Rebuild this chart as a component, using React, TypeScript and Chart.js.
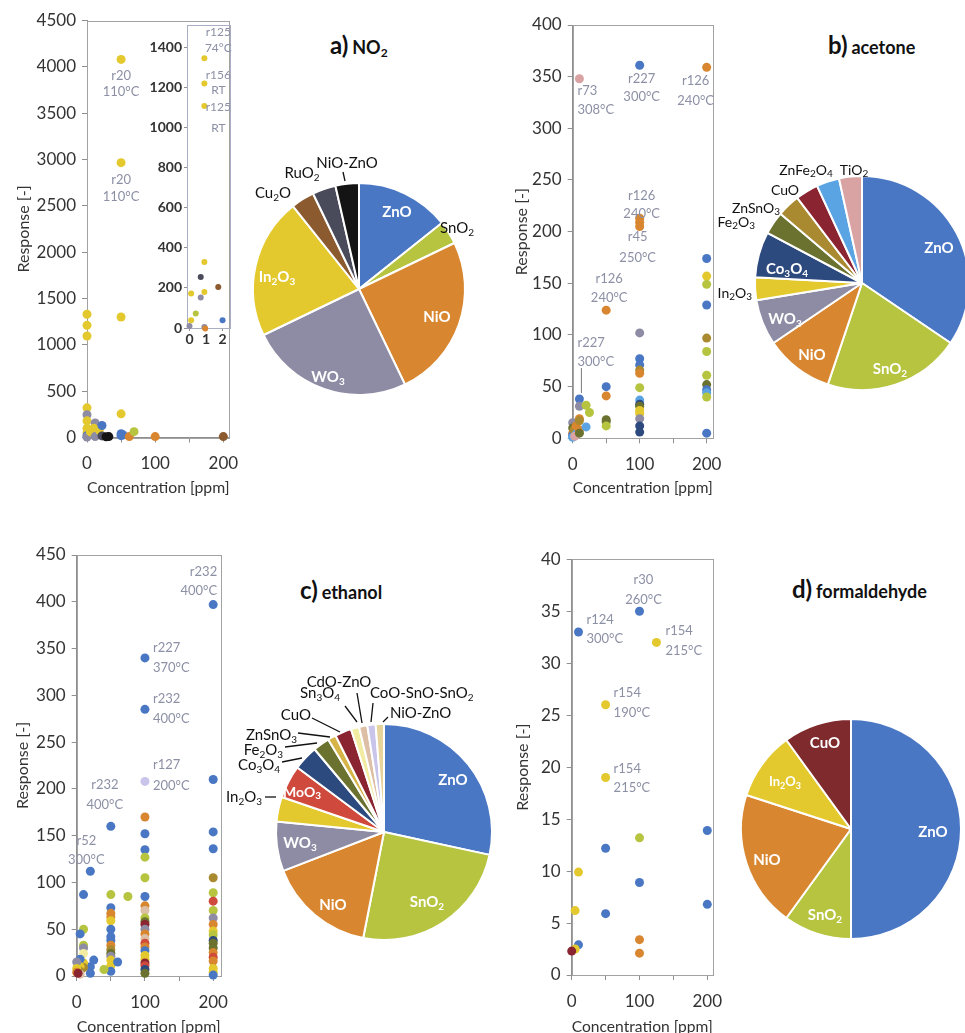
import React, { useEffect, useRef } from 'react';
import { Chart, registerables } from 'chart.js';

Chart.register(...registerables);

const FONT = 'Lato, "Open Sans", "DejaVu Sans", sans-serif';
const TICK_COLOR = '#333333';
const AXIS_COLOR = '#8f8f8f';
const NOTE_COLOR = '#8c90a5';

// ---------- material colours ----------
const COLORS: Record<string, string> = {
  'ZnO': '#4a77c4',
  'SnO2': '#b6c440',
  'NiO': '#d8862f',
  'WO3': '#8e8ca4',
  'In2O3': '#e3c92e',
  'Cu2O': '#8b5a2f',
  'RuO2': '#4a4b5a',
  'NiO-ZnO': '#141414',
  'Co3O4': '#2d4a7e',
  'Fe2O3': '#6b712f',
  'ZnSnO3': '#a98a30',
  'CuO': '#8a2431',
  'ZnFe2O4': '#5ba4e4',
  'TiO2': '#d9a3a4',
  'MoO3': '#cf4a3c',
  'Sn3O4': '#f2eca2',
  'CdO-ZnO': '#dcbfa4',
  'CoO-SnO-SnO2': '#c9c5ea',
};

// ---------- shared axis ticks ----------
const X_TICKS = [0, 50, 100, 150, 200];
const X_LABELS = [0, 100, 200];

// ---------- a) NO2 ----------
const NO2_X = [0, 0, 0, 0, 0, 0, 0, 0, 0, 0, 12, 5, 10, 12, 18, 22, 22, 32, 28, 50, 50, 50, 50, 50, 50, 53, 62, 69, 100, 200];
const NO2_Y = [1330, 1210, 1095, 320, 245, 180, 100, 50, 20, 5, 157, 60, 100, 10, 80, 130, 17, 10, 8, 4080, 2966, 1300, 255, 40, 20, 28, 10, 63, 10, 10];
const NO2_M = ['In2O3', 'In2O3', 'In2O3', 'In2O3', 'WO3', 'In2O3', 'In2O3', 'In2O3', 'ZnO', 'WO3', 'WO3', 'In2O3', 'In2O3', 'WO3', 'In2O3', 'ZnO', 'RuO2', 'NiO-ZnO', 'NiO-ZnO', 'In2O3', 'In2O3', 'In2O3', 'In2O3', 'ZnO', 'ZnO', 'ZnO', 'NiO', 'SnO2', 'NiO', 'Cu2O'];
const NO2_Y_TICKS = [0, 500, 1000, 1500, 2000, 2500, 3000, 3500, 4000, 4500];
const NO2_NOTES = [
  { x: 50, y: 4080, lines: ['r20', '110°C'] },
  { x: 50, y: 2966, lines: ['r20', '110°C'] },
];
// inset (low concentrations)
const NO2_IN_X = [0, 0.1, 0.1, 0.38, 0.68, 0.68, 0.9, 0.9, 0.9, 0.95, 1.74, 2, 0.9, 0.9, 0.9];
const NO2_IN_Y = [10, 38, 172, 72, 152, 254, 329, 180, 5, -2, 204, 38, 1344, 1219, 1106];
const NO2_IN_M = ['WO3', 'In2O3', 'In2O3', 'SnO2', 'WO3', 'RuO2', 'In2O3', 'In2O3', 'WO3', 'NiO', 'Cu2O', 'ZnO', 'In2O3', 'In2O3', 'In2O3'];
const NO2_IN_X_TICKS = [0, 1, 2];
const NO2_IN_Y_TICKS = [0, 200, 400, 600, 800, 1000, 1200, 1400];
const NO2_IN_NOTES = [
  { x: 0.9, y: 1344, lines: ['r125', '74°C'] },
  { x: 0.9, y: 1219, lines: ['r156', 'RT'] },
  { x: 0.9, y: 1106, lines: ['r125', 'RT'] },
];
const NO2_PIE_LABELS = ['ZnO', 'SnO2', 'NiO', 'WO3', 'In2O3', 'Cu2O', 'RuO2', 'NiO-ZnO'];
const NO2_PIE_COUNTS = [4, 1, 7, 7, 6, 1, 1, 1];

// ---------- b) acetone ----------
const ACE_X = [10, 100, 200, 100, 100, 100, 50, 10, 0, 0, 0, 0, 0, 2, 5, 5, 3, 10, 10, 10, 10, 10, 20, 25, 20, 50, 50, 50, 50, 50, 100, 100, 100, 100, 100, 100, 100, 100, 100, 100, 100, 100, 100, 100, 200, 200, 200, 200, 200, 200, 200, 200, 200, 200, 200, 200];
const ACE_Y = [348, 361, 359, 213, 209, 205, 124, 38, 15, 10, 5, 3, 1, 8, 12, 4, 2, 31, 19, 17, 8, 5, 32, 25, 11, 50, 41, 18, 16, 12, 102, 77, 71, 66, 63, 49, 37, 33, 31, 27, 24, 19, 12, 6, 174, 157, 149, 129, 97, 84, 61, 52, 47, 44, 40, 5];
const ACE_M = ['TiO2', 'ZnO', 'NiO', 'NiO', 'NiO', 'NiO', 'NiO', 'ZnO', 'WO3', 'Fe2O3', 'NiO', 'ZnO', 'ZnFe2O4', 'ZnSnO3', 'NiO', 'ZnFe2O4', 'TiO2', 'WO3', 'NiO', 'ZnSnO3', 'NiO', 'Fe2O3', 'SnO2', 'SnO2', 'ZnFe2O4', 'ZnO', 'NiO', 'Fe2O3', 'Fe2O3', 'SnO2', 'WO3', 'ZnO', 'ZnO', 'ZnSnO3', 'NiO', 'SnO2', 'ZnFe2O4', 'Co3O4', 'Fe2O3', 'In2O3', 'In2O3', 'WO3', 'Co3O4', 'Co3O4', 'ZnO', 'In2O3', 'SnO2', 'ZnO', 'ZnSnO3', 'SnO2', 'SnO2', 'Fe2O3', 'ZnO', 'ZnFe2O4', 'SnO2', 'ZnO'];
const ACE_Y_TICKS = [0, 50, 100, 150, 200, 250, 300, 350, 400];
const ACE_NOTES = [
  { x: 10, y: 348, lines: ['r73', '308°C'] },
  { x: 100, y: 361, lines: ['r227', '300°C'] },
  { x: 200, y: 359, lines: ['r126', '240°C'] },
  { x: 100, y: 213, lines: ['r126', '240°C'] },
  { x: 100, y: 205, lines: ['r45', '250°C'] },
  { x: 50, y: 124, lines: ['r126', '240°C'] },
  { x: 10, y: 38, lines: ['r227', '300°C'] },
];
const ACE_PIE_LABELS = ['ZnO', 'SnO2', 'NiO', 'WO3', 'In2O3', 'Co3O4', 'Fe2O3', 'ZnSnO3', 'CuO', 'ZnFe2O4', 'TiO2'];
const ACE_PIE_COUNTS = [10, 6, 3, 2, 1, 2, 1, 1, 1, 1, 1];

// ---------- c) ethanol ----------
const ETH_X = [
  200, 200, 200, 200, 200, 200, 200, 200, 200, 200, 200, 200, 200, 200, 200, 200, 200, 200, 200, 200, 200,
  100, 100, 100, 100, 100, 100, 100, 100, 100, 100, 100, 100, 100, 100, 100, 100, 100, 100, 100, 100, 100, 100, 100, 100, 100, 100,
  50, 50, 50, 50, 50, 50, 50, 50, 50, 50, 50, 50, 50, 50, 50, 50,
  75, 40, 60, 20, 20, 20, 25, 10, 10, 10, 10, 10, 10, 10, 5, 5, 5, 5, 5, 0, 0, 0, 2,
];
const ETH_Y = [
  397, 210, 154, 136, 105, 89, 80, 70, 62, 55, 48, 44, 38, 35, 30, 25, 20, 16, 8, 4, 1,
  340, 285, 208, 170, 152, 135, 127, 105, 85, 75, 70, 62, 58, 55, 50, 45, 40, 35, 31, 27, 22, 18, 14, 11, 7, 3,
  160, 87, 73, 67, 63, 59, 50, 42, 38, 33, 28, 24, 21, 17, 11, 5,
  85, 7, 15, 112, 10, 3, 17, 87, 50, 33, 30, 24, 14, 9, 45, 18, 10, 5, 2, 15, 8, 4, 3,
];
const ETH_M = [
  'ZnO', 'ZnO', 'ZnO', 'ZnO', 'ZnSnO3', 'SnO2', 'MoO3', 'SnO2', 'WO3', 'NiO', 'In2O3', 'SnO2', 'Co3O4', 'Fe2O3', 'Fe2O3', 'NiO', 'MoO3', 'NiO', 'In2O3', 'In2O3', 'ZnO',
  'ZnO', 'ZnO', 'CoO-SnO-SnO2', 'NiO', 'ZnO', 'ZnO', 'SnO2', 'SnO2', 'ZnO', 'NiO', 'CdO-ZnO', 'SnO2', 'Fe2O3', 'CuO', 'WO3', 'NiO', 'CdO-ZnO', 'MoO3', 'NiO', 'ZnO', 'In2O3', 'In2O3', 'CuO', 'MoO3', 'Co3O4', 'Fe2O3',
  'ZnO', 'SnO2', 'ZnO', 'NiO', 'NiO', 'In2O3', 'ZnO', 'ZnO', 'ZnO', 'NiO', 'ZnSnO3', 'Fe2O3', 'WO3', 'In2O3', 'In2O3', 'ZnO',
  'SnO2', 'SnO2', 'ZnO', 'ZnO', 'ZnO', 'ZnO', 'ZnO', 'ZnO', 'SnO2', 'SnO2', 'WO3', 'Sn3O4', 'In2O3', 'ZnSnO3', 'ZnO', 'ZnO', 'In2O3', 'ZnSnO3', 'CdO-ZnO', 'WO3', 'In2O3', 'NiO', 'CuO',
];
const ETH_Y_TICKS = [0, 50, 100, 150, 200, 250, 300, 350, 400, 450];
const ETH_NOTES = [
  { x: 200, y: 397, lines: ['r232', '400°C'] },
  { x: 100, y: 340, lines: ['r227', '370°C'] },
  { x: 100, y: 285, lines: ['r232', '400°C'] },
  { x: 100, y: 208, lines: ['r127', '200°C'] },
  { x: 50, y: 160, lines: ['r232', '400°C'] },
  { x: 20, y: 112, lines: ['r52', '300°C'] },
];
const ETH_PIE_LABELS = ['ZnO', 'SnO2', 'NiO', 'WO3', 'In2O3', 'MoO3', 'Co3O4', 'Fe2O3', 'ZnSnO3', 'CuO', 'Sn3O4', 'CdO-ZnO', 'CoO-SnO-SnO2', 'NiO-ZnO'];
const ETH_PIE_COUNTS = [23, 20, 13, 6, 3, 4, 3, 2, 1, 2, 1, 1, 1, 1];

// ---------- d) formaldehyde ----------
const FORM_X = [10, 100, 125, 50, 50, 100, 50, 200, 10, 100, 5, 50, 200, 100, 100, 10, 5, 0];
const FORM_Y = [33, 35, 32, 26, 19, 13.2, 12.2, 13.9, 9.9, 8.9, 6.2, 5.9, 6.8, 3.4, 2.1, 2.9, 2.5, 2.3];
const FORM_M = ['ZnO', 'ZnO', 'In2O3', 'In2O3', 'In2O3', 'SnO2', 'ZnO', 'ZnO', 'In2O3', 'ZnO', 'In2O3', 'ZnO', 'ZnO', 'NiO', 'NiO', 'ZnO', 'In2O3', 'CuO'];
const FORM_Y_TICKS = [0, 5, 10, 15, 20, 25, 30, 35, 40];
const FORM_NOTES = [
  { x: 10, y: 33, lines: ['r124', '300°C'] },
  { x: 100, y: 35, lines: ['r30', '260°C'] },
  { x: 125, y: 32, lines: ['r154', '215°C'] },
  { x: 50, y: 26, lines: ['r154', '190°C'] },
  { x: 50, y: 19, lines: ['r154', '215°C'] },
];
const FORM_PIE_LABELS = ['ZnO', 'SnO2', 'NiO', 'In2O3', 'CuO'];
const FORM_PIE_COUNTS = [5, 1, 2, 1, 1];

// ================= styling / placement (not data) =================
type NotePos = { dx: number; dy: number[]; align: CanvasTextAlign; lead?: number[] };
type LabelPos = { dx: number; dy: number; inside?: boolean; align?: CanvasTextAlign; size?: number; lead?: number[] };

const NO2_NOTE_POS: NotePos[] = [
  { dx: 0, dy: [16, 32], align: 'center' },
  { dx: 0, dy: [17, 34], align: 'center' },
];
const NO2_IN_NOTE_POS: NotePos[] = [
  { dx: 14, dy: [-26, -10], align: 'center' },
  { dx: 14, dy: [-8, 7], align: 'center' },
  { dx: 14, dy: [1, 22], align: 'center' },
];
const ACE_NOTE_POS: NotePos[] = [
  { dx: -2, dy: [12, 31], align: 'left' },
  { dx: 2, dy: [14, 32], align: 'center' },
  { dx: -11, dy: [13, 33], align: 'center' },
  { dx: 2, dy: [-22, -4], align: 'center' },
  { dx: -2, dy: [10, 31], align: 'center' },
  { dx: 3, dy: [-31, -12], align: 'center' },
  { dx: -2, dy: [-56, -37], align: 'left', lead: [2, -31, 2, -6] },
];
const ETH_NOTE_POS: NotePos[] = [
  { dx: 4, dy: [-33, -14], align: 'right' },
  { dx: 8, dy: [-10, 10], align: 'left' },
  { dx: 8, dy: [-11, 9], align: 'left' },
  { dx: 8, dy: [-17, 4], align: 'left' },
  { dx: -6, dy: [-41, -21], align: 'center' },
  { dx: -4, dy: [-30, -11], align: 'center' },
];
const FORM_NOTE_POS: NotePos[] = [
  { dx: 8, dy: [-12, 7], align: 'left' },
  { dx: 4, dy: [-31, -11], align: 'center' },
  { dx: 9, dy: [-12, 8], align: 'left' },
  { dx: 8, dy: [-12, 8], align: 'left' },
  { dx: 8, dy: [-9, 10], align: 'left' },
];

const NO2_PIE_POS: LabelPos[] = [
  { dx: 38, dy: -77, inside: true },
  { dx: 81, dy: -61, align: 'left' },
  { dx: 78, dy: 28, inside: true },
  { dx: -31, dy: 88, inside: true },
  { dx: -82, dy: -12, inside: true },
  { dx: -86, dy: -96 },
  { dx: -57, dy: -116 },
  { dx: -12, dy: -126, lead: [-16, -117, -14, -108] },
];
const ACE_PIE_POS: LabelPos[] = [
  { dx: 77, dy: -35, inside: true },
  { dx: 28, dy: 86, inside: true },
  { dx: -50, dy: 72, inside: true },
  { dx: -77, dy: 36, inside: true },
  { dx: -110, dy: 10, align: 'right', size: 14 },
  { dx: -75, dy: -14, inside: true },
  { dx: -107, dy: -61, align: 'right', size: 14 },
  { dx: -106, dy: -75, size: 14 },
  { dx: -77, dy: -93, size: 14 },
  { dx: -56, dy: -113, size: 14 },
  { dx: -8, dy: -113, size: 14 },
];
const ETH_PIE_POS: LabelPos[] = [
  { dx: 69, dy: -52, inside: true },
  { dx: 43, dy: 70, inside: true },
  { dx: -51, dy: 73, inside: true },
  { dx: -84, dy: 11, inside: true },
  { dx: -122, dy: -35, align: 'right', lead: [-119, -35, -108, -35] },
  { dx: -82, dy: -40, inside: true, size: 14 },
  { dx: -104, dy: -67, align: 'right', lead: [-102, -70, -82, -74] },
  { dx: -101, dy: -82, align: 'right', lead: [-99, -85, -67, -89] },
  { dx: -87, dy: -97, align: 'right', lead: [-86, -99, -54, -95] },
  { dx: -73, dy: -117, align: 'right', lead: [-72, -114, -44, -100] },
  { dx: -44, dy: -139, align: 'right', lead: [-39, -126, -27, -110] },
  { dx: -45, dy: -150, lead: [-27, -139, -22, -109] },
  { dx: -14, dy: -139, align: 'left', lead: [-11, -129, -13, -110] },
  { dx: 6, dy: -119, align: 'left', lead: [4, -115, -1, -110] },
];
const FORM_PIE_POS: LabelPos[] = [
  { dx: 82, dy: 3, inside: true },
  { dx: -26, dy: 86, inside: true },
  { dx: -84, dy: 31, inside: true },
  { dx: -66, dy: -47, inside: true, size: 13 },
  { dx: -26, dy: -86, inside: true },
];

const pieColors = (labels: string[], over: Record<string, string> = {}) => labels.map((l) => over[l] || COLORS[l]);

// ================= drawing helpers =================
function drawChem(ctx: CanvasRenderingContext2D, text: string, x: number, y: number, size: number, bold: boolean, color: string, align: CanvasTextAlign) {
  const parts: { t: string; sub: boolean }[] = [];
  for (const ch of text) {
    const sub = /[0-9]/.test(ch);
    const last = parts[parts.length - 1];
    if (last && last.sub === sub) last.t += ch;
    else parts.push({ t: ch, sub });
  }
  const w = bold ? 'bold ' : '';
  const mainFont = `${w}${size}px ${FONT}`;
  const subFont = `${w}${Math.round(size * 0.68)}px ${FONT}`;
  let total = 0;
  const widths = parts.map((p) => {
    ctx.font = p.sub ? subFont : mainFont;
    const m = ctx.measureText(p.t).width;
    total += m;
    return m;
  });
  let sx = align === 'center' ? x - total / 2 : align === 'right' || align === 'end' ? x - total : x;
  ctx.textAlign = 'left';
  ctx.textBaseline = 'middle';
  ctx.fillStyle = color;
  parts.forEach((p, i) => {
    ctx.font = p.sub ? subFont : mainFont;
    ctx.fillText(p.t, sx, p.sub ? y + size * 0.3 : y);
    sx += widths[i];
  });
}

const framePlugin = (color: string) => ({
  id: 'frame',
  beforeDatasetsDraw(chart: any) {
    const { ctx, chartArea: a } = chart;
    ctx.save();
    ctx.strokeStyle = color;
    ctx.lineWidth = 1;
    ctx.strokeRect(Math.round(a.left) + 0.5, Math.round(a.top) + 0.5, Math.round(a.right - a.left), Math.round(a.bottom - a.top));
    ctx.restore();
  },
});

const notesPlugin = (notes: { x: number; y: number; lines: string[] }[], pos: NotePos[], size: number) => ({
  id: 'notes',
  afterDatasetsDraw(chart: any) {
    const { ctx, scales } = chart;
    ctx.save();
    ctx.font = `${size}px ${FONT}`;
    ctx.fillStyle = NOTE_COLOR;
    ctx.strokeStyle = '#7a7a7a';
    ctx.textBaseline = 'middle';
    notes.forEach((n, i) => {
      const p = pos[i];
      const px = scales.x.getPixelForValue(n.x);
      const py = scales.y.getPixelForValue(n.y);
      ctx.textAlign = p.align;
      n.lines.forEach((t, j) => ctx.fillText(t, px + p.dx, py + p.dy[j]));
      if (p.lead) {
        ctx.lineWidth = 1;
        ctx.beginPath();
        ctx.moveTo(px + p.lead[0], py + p.lead[1]);
        ctx.lineTo(px + p.lead[2], py + p.lead[3]);
        ctx.stroke();
      }
    });
    ctx.restore();
  },
});

const pieLabelPlugin = (labels: string[], pos: LabelPos[]) => ({
  id: 'pieLabels',
  afterDatasetsDraw(chart: any) {
    const arc: any = chart.getDatasetMeta(0).data[0];
    const cx = arc.x;
    const cy = arc.y;
    const ctx = chart.ctx;
    ctx.save();
    labels.forEach((lab, i) => {
      const p = pos[i];
      if (p.lead) {
        ctx.strokeStyle = '#111';
        ctx.lineWidth = 1.3;
        ctx.beginPath();
        ctx.moveTo(cx + p.lead[0], cy + p.lead[1]);
        ctx.lineTo(cx + p.lead[2], cy + p.lead[3]);
        ctx.stroke();
      }
      drawChem(ctx, lab, cx + p.dx, cy + p.dy, p.size || 15, !!p.inside, p.inside ? '#ffffff' : '#111111', p.align || 'center');
    });
    ctx.restore();
  },
});

type ScatterSpec = {
  xs: number[]; ys: number[]; ms: string[];
  xMin: number; xMax: number; xTicks: number[]; xLabels: number[];
  yMax: number; yTicks: number[];
  yAxisW: number; xAxisH: number; padTop: number; padRight: number;
  titles: boolean; yTitlePad: number; xTitlePad: number;
  tickSize: number; tickBold?: boolean; xTickPad: number; yTickPad: number; tickLen: number;
  pointR: number; notes: { x: number; y: number; lines: string[] }[]; notePos: NotePos[]; noteSize: number;
  frame: string;
};

function makeScatter(canvas: HTMLCanvasElement, s: ScatterSpec) {
  const tickFont = { family: FONT, size: s.tickSize, weight: s.tickBold ? 'bold' : 'normal' } as any;
  const titleFont = { family: FONT, size: 16 } as any;
  return new Chart(canvas, {
    type: 'scatter',
    data: {
      datasets: [{
        data: s.xs.map((x, i) => ({ x, y: s.ys[i] })),
        pointBackgroundColor: s.ms.map((m) => COLORS[m]),
        pointBorderWidth: 0,
        pointBorderColor: 'rgba(0,0,0,0)',
        pointRadius: s.pointR,
        clip: false,
      } as any],
    },
    options: {
      responsive: false,
      animation: false,
      events: [],
      layout: { padding: { top: s.padTop, right: s.padRight, left: 0, bottom: 0 } },
      plugins: { legend: { display: false }, tooltip: { enabled: false } },
      scales: {
        x: {
          type: 'linear', min: s.xMin, max: s.xMax,
          afterBuildTicks: (ax: any) => { ax.ticks = s.xTicks.map((v) => ({ value: v })); },
          afterFit: (ax: any) => { ax.height = s.xAxisH; },
          grid: { drawOnChartArea: false, drawTicks: true, tickLength: s.tickLen, color: AXIS_COLOR },
          border: { display: true, color: AXIS_COLOR },
          ticks: {
            font: tickFont, color: TICK_COLOR, padding: s.xTickPad, maxRotation: 0, autoSkip: false,
            callback: (v: any) => (s.xLabels.includes(Number(v)) ? String(v) : ''),
          },
          title: { display: s.titles, text: 'Concentration [ppm]', font: titleFont, color: TICK_COLOR, padding: { top: 0, bottom: s.xTitlePad } },
        },
        y: {
          type: 'linear', min: 0, max: s.yMax,
          afterBuildTicks: (ax: any) => { ax.ticks = s.yTicks.map((v) => ({ value: v })); },
          afterFit: (ax: any) => { ax.width = s.yAxisW; },
          grid: { drawOnChartArea: false, drawTicks: true, tickLength: s.tickLen, color: AXIS_COLOR },
          border: { display: true, color: AXIS_COLOR },
          ticks: { font: tickFont, color: TICK_COLOR, padding: s.yTickPad, autoSkip: false, callback: (v: any) => String(v) },
          title: { display: s.titles, text: 'Response [-]', font: titleFont, color: TICK_COLOR, padding: { top: s.yTitlePad, bottom: 0 } },
        },
      },
    } as any,
    plugins: [framePlugin(s.frame), notesPlugin(s.notes, s.notePos, s.noteSize)],
  });
}

function makePie(canvas: HTMLCanvasElement, labels: string[], counts: number[], colors: string[], pos: LabelPos[], radius: number) {
  return new Chart(canvas, {
    type: 'pie',
    data: {
      labels,
      datasets: [{ data: counts, backgroundColor: colors, borderColor: '#ffffff', borderWidth: 2, radius } as any],
    },
    options: {
      responsive: false,
      animation: false,
      events: [],
      layout: { padding: 0 },
      plugins: { legend: { display: false }, tooltip: { enabled: false } },
    } as any,
    plugins: [pieLabelPlugin(labels, pos)],
  });
}

function ChartBox({ left, top, width, height, make }: { left: number; top: number; width: number; height: number; make: (c: HTMLCanvasElement) => Chart }) {
  const ref = useRef<HTMLCanvasElement>(null);
  useEffect(() => {
    const ch = make(ref.current as HTMLCanvasElement);
    return () => ch.destroy();
  }, []);
  return <canvas ref={ref} width={width} height={height} style={{ position: 'absolute', left, top, width, height }} />;
}

function Title({ left, top, letter, children }: { left: number; top: number; letter: string; children: any }) {
  return (
    <div style={{ position: 'absolute', left, top, fontFamily: FONT, fontWeight: 700, color: '#111', whiteSpace: 'nowrap', lineHeight: '30px' }}>
      <span style={{ fontSize: 24 }}>{letter}</span>{' '}
      <span style={{ fontSize: 18 }}>{children}</span>
    </div>
  );
}

const BASE = { xMin: 0, xTicks: X_TICKS, xLabels: X_LABELS, titles: true, tickSize: 17, xTickPad: 11, yTickPad: 6, tickLen: 5, pointR: 4.5, noteSize: 13, frame: '#a2a2a2' };

const NO2_SPEC: ScatterSpec = {
  ...BASE, xs: NO2_X, ys: NO2_Y, ms: NO2_M, xMax: 209, yMax: 4500, yTicks: NO2_Y_TICKS,
  yAxisW: 87, xAxisH: 67.5, padTop: 20.5, padRight: 20, yTitlePad: 14, xTitlePad: 7.4,
  notes: NO2_NOTES, notePos: NO2_NOTE_POS,
};
const NO2_INSET_SPEC: ScatterSpec = {
  ...BASE, xs: NO2_IN_X, ys: NO2_IN_Y, ms: NO2_IN_M, xMin: -0.15, xMax: 2.45, xTicks: NO2_IN_X_TICKS, xLabels: NO2_IN_X_TICKS,
  yMax: 1510, yTicks: NO2_IN_Y_TICKS, yAxisW: 47, xAxisH: 22, padTop: 25, padRight: 10, titles: false,
  yTitlePad: 0, xTitlePad: 0, tickSize: 14, tickBold: true, xTickPad: 0, yTickPad: 2, tickLen: 3, pointR: 3,
  notes: NO2_IN_NOTES, notePos: NO2_IN_NOTE_POS, noteSize: 12, frame: '#a9aec4',
};
const ACE_SPEC: ScatterSpec = {
  ...BASE, xs: ACE_X, ys: ACE_Y, ms: ACE_M, xMax: 209, yMax: 400, yTicks: ACE_Y_TICKS,
  yAxisW: 82.7, xAxisH: 66.7, padTop: 25, padRight: 22.3, yTitlePad: 22.1, xTitlePad: 7.4,
  notes: ACE_NOTES, notePos: ACE_NOTE_POS,
};
const ETH_SPEC: ScatterSpec = {
  ...BASE, xs: ETH_X, ys: ETH_Y, ms: ETH_M, xMax: 211, yMax: 450, yTicks: ETH_Y_TICKS,
  yAxisW: 76.7, xAxisH: 64, padTop: 25, padRight: 29.3, yTitlePad: 13.7, xTitlePad: 3.4,
  notes: ETH_NOTES, notePos: ETH_NOTE_POS,
};
const FORM_SPEC: ScatterSpec = {
  ...BASE, xs: FORM_X, ys: FORM_Y, ms: FORM_M, xMax: 208, yMax: 40, yTicks: FORM_Y_TICKS,
  yAxisW: 81.7, xAxisH: 65, padTop: 29.3, padRight: 22.3, yTitlePad: 23.4, xTitlePad: 3.4,
  notes: FORM_NOTES, notePos: FORM_NOTE_POS,
};

const PIE = 360;

export default function App() {
  useEffect(() => {
    document.body.style.margin = '0';
    document.body.style.overflow = 'hidden';
  }, []);
  const subStyle = { fontSize: 12, verticalAlign: '-3px', lineHeight: 0 };
  return (
    <div style={{ position: 'absolute', left: 0, top: 0, width: 965, height: 1033, overflow: 'hidden', background: '#ffffff' }}>
      <ChartBox left={0} top={0} width={250} height={505} make={(c) => makeScatter(c, NO2_SPEC)} />
      <ChartBox left={140} top={0} width={100} height={350} make={(c) => makeScatter(c, NO2_INSET_SPEC)} />
      <ChartBox left={490} top={0} width={245} height={505} make={(c) => makeScatter(c, ACE_SPEC)} />
      <ChartBox left={0} top={530} width={250} height={510} make={(c) => makeScatter(c, ETH_SPEC)} />
      <ChartBox left={490} top={530} width={245} height={510} make={(c) => makeScatter(c, FORM_SPEC)} />

      <ChartBox left={179} top={109} width={PIE} height={PIE} make={(c) => makePie(c, NO2_PIE_LABELS, NO2_PIE_COUNTS, pieColors(NO2_PIE_LABELS), NO2_PIE_POS, 106)} />
      <ChartBox left={682} top={103} width={PIE} height={PIE} make={(c) => makePie(c, ACE_PIE_LABELS, ACE_PIE_COUNTS, pieColors(ACE_PIE_LABELS), ACE_PIE_POS, 107)} />
      <ChartBox left={204} top={652} width={PIE} height={PIE} make={(c) => makePie(c, ETH_PIE_LABELS, ETH_PIE_COUNTS, pieColors(ETH_PIE_LABELS, { 'NiO-ZnO': '#e7d49c', 'ZnSnO3': '#d6b448' }), ETH_PIE_POS, 108)} />
      <ChartBox left={671} top={649} width={PIE} height={PIE} make={(c) => makePie(c, FORM_PIE_LABELS, FORM_PIE_COUNTS, pieColors(FORM_PIE_LABELS, { 'CuO': '#7f2a2c' }), FORM_PIE_POS, 110)} />

      <Title left={330} top={30} letter="a)">NO<sub style={subStyle}>2</sub></Title>
      <Title left={828} top={30} letter="b)">acetone</Title>
      <Title left={300} top={575} letter="c)">ethanol</Title>
      <Title left={792} top={574} letter="d)">formaldehyde</Title>
    </div>
  );
}
